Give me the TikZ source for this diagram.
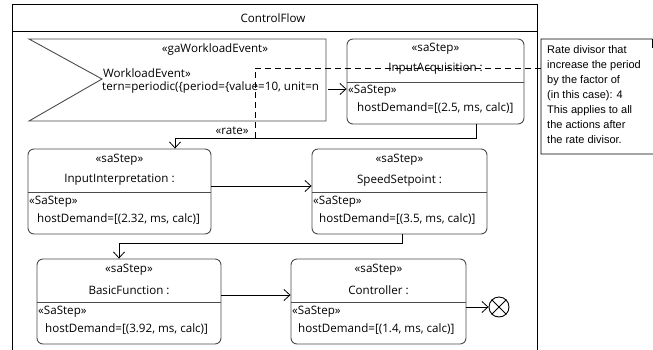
\documentclass[tikz,border=0pt]{standalone}
\usepackage{fontspec}
\usepackage{tikz}
\usetikzlibrary{arrows.meta}
\usetikzlibrary{positioning}

\newfontfamily\uifont{Open Sans}
\newfontfamily\notefont{Liberation Sans}

\begin{document}
\begin{tikzpicture}[
    x=1pt, y=-1pt,
    every node/.style={inner sep=0pt, font=\uifont\fontsize{11.6}{14}\selectfont},
    step box/.style={draw=black!70, line width=0.9pt, rounded corners=6pt, minimum height=85pt},
    tag/.style={anchor=west},
    flow/.style={draw=black, line width=0.8pt, -{Straight Barb[length=6pt, width=11pt]}},
    note text/.style={anchor=north west, align=left, font=\notefont\fontsize{11}{15}\selectfont},
  ]

  \fill[white] (0,0) rectangle (653,349);
  \useasboundingbox (0,0) rectangle (653,349);

  % activity frame
  \draw[line width=0.9pt] (12,356) -- (12,4) -- (537,4) -- (537,356);
  \draw[line width=0.9pt] (12,31) -- (537,31);
  \node (title) at (273,18) {ControlFlow};

  % accept event
  \draw[draw=black!70, line width=0.9pt] (29,39) -- (326,39) -- (326,121) -- (29,121) -- (102,79) -- cycle;
  \node (ev-st)   at (215,49) {«gaWorkloadEvent»};
  \node[tag] (ev-l1) at (103,73) {WorkloadEvent»};
  \node[tag] (ev-l2) at (102,87) {tern=periodic(\{period=\{value=10, unit=n};
  \coordinate (ev-out) at (328,89);

  % steps
  \node[step box, minimum width=177pt] (acq) at (435.5,81.5) {};
  \draw[draw=black!70, line width=0.9pt] (acq.west |- 0,82) -- (acq.east |- 0,82);
  \node (acq-st)   at (435.5,49) {«saStep»};
  \node (acq-name) at (435.5,69) {InputAcquisition :};
  \node[tag] (acq-tag) at (348,91)  {«SaStep»};
  \node[tag] (acq-hd)  at (357,108) {hostDemand=[(2.5, ms, calc)]};

  \node[step box, minimum width=183pt] (interp) at (119.5,191.5) {};
  \draw[draw=black!70, line width=0.9pt] (interp.west |- 0,192) -- (interp.east |- 0,192);
  \node (interp-st)   at (119.5,160) {«saStep»};
  \node (interp-name) at (119.5,180) {InputInterpretation :};
  \node[tag] (interp-tag) at (29,202) {«SaStep»};
  \node[tag] (interp-hd)  at (37,219) {hostDemand=[(2.32, ms, calc)]};

  \node[step box, minimum width=175pt] (speed) at (399.5,191.5) {};
  \draw[draw=black!70, line width=0.9pt] (speed.west |- 0,192) -- (speed.east |- 0,192);
  \node (speed-st)   at (399.5,160) {«saStep»};
  \node (speed-name) at (399.5,180) {SpeedSetpoint :};
  \node[tag] (speed-tag) at (313,202) {«SaStep»};
  \node[tag] (speed-hd)  at (319,219) {hostDemand=[(3.5, ms, calc)]};

  \node[step box, minimum width=184pt] (basic) at (129,301.5) {};
  \draw[draw=black!70, line width=0.9pt] (basic.west |- 0,302) -- (basic.east |- 0,302);
  \node (basic-st)   at (129,270) {«saStep»};
  \node (basic-name) at (129,290) {BasicFunction :};
  \node[tag] (basic-tag) at (38,312) {«SaStep»};
  \node[tag] (basic-hd)  at (45,329) {hostDemand=[(3.92, ms, calc)]};

  \node[step box, minimum width=175pt] (ctrl) at (378.5,301.5) {};
  \draw[draw=black!70, line width=0.9pt] (ctrl.west |- 0,302) -- (ctrl.east |- 0,302);
  \node (ctrl-st)   at (378.5,270) {«saStep»};
  \node (ctrl-name) at (378.5,290) {Controller :};
  \node[tag] (ctrl-tag) at (292,312) {«SaStep»};
  \node[tag] (ctrl-hd)  at (298,329) {hostDemand=[(1.4, ms, calc)]};

  % flow final
  \node[circle, draw, line width=0.9pt, minimum size=20pt] (final) at (499,307) {};
  \draw[line width=0.9pt] (final.north west) -- (final.south east);
  \draw[line width=0.9pt] (final.north east) -- (final.south west);

  % note
  \draw[line width=0.9pt] (541,39) -- (652,39) -- (660,47) -- (660,154) -- (541,154) -- cycle;
  \draw[line width=0.9pt] (652,39) -- (652,47) -- (660,47);
  \node[note text] (note) at (547,45) {Rate divisor that\\increase the period\\by the factor of\\(in this case): 4\\This applies to all\\the actions after\\the rate divisor.};
  \coordinate (note-in) at (541,68);
  \coordinate (rate-pt) at (255,138);

  % edges
  \draw[flow] (ev-out) -- (acq.west |- ev-out);
  \draw[flow] ([xshift=40.5pt]acq.south) -- ++(0,14)
    -| node[above=3pt, pos=0.405] (rate) {«rate»} ([xshift=55.5pt]interp.north);
  \draw[line width=0.8pt, dash pattern=on 6pt off 4pt] (note-in) -- (rate-pt |- note-in) -- (rate-pt);
  \draw[flow] ([yshift=5.5pt]interp.east) -- ([yshift=5.5pt]speed.west);
  \draw[flow] ([xshift=2.5pt]speed.south) -- ++(0,9) -| ([xshift=-10pt]basic.north);
  \draw[flow] ([yshift=6.5pt]basic.east) -- ([yshift=6.5pt]ctrl.west);
  \draw[flow] ([yshift=-5.5pt]ctrl.east) -- (final.west);

\end{tikzpicture}
\end{document}
